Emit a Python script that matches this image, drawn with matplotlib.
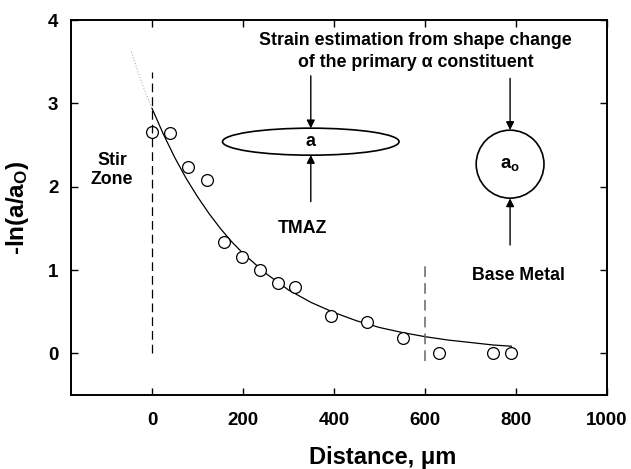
import matplotlib
matplotlib.use('Agg')
import matplotlib.pyplot as plt
from matplotlib.patches import Ellipse

plt.rcParams['font.family'] = ['Liberation Sans', 'DejaVu Sans']
plt.rcParams['font.weight'] = 'bold'
plt.rcParams['axes.labelweight'] = 'bold'
plt.rcParams['mathtext.fontset'] = 'custom'
plt.rcParams['mathtext.rm'] = 'Liberation Sans:bold'
plt.rcParams['mathtext.it'] = 'Liberation Sans:bold'

# measured points
dist = [0, 40, 80, 120, 158, 198, 238, 277, 315, 394, 473, 552, 631, 749, 788]
strain = [2.66, 2.64, 2.24, 2.08, 1.34, 1.16, 1.0, 0.84, 0.80, 0.45, 0.38, 0.18, 0.0, 0.0, 0.0]

# fitted curve
fit_x = [0, 25, 50, 75, 100, 125, 150, 175, 200, 250, 300, 350, 400, 450,
         500, 550, 600, 650, 700, 750, 790]
fit_y = [2.94, 2.63, 2.35, 2.10, 1.88, 1.68, 1.50, 1.34, 1.20, 0.96, 0.76,
         0.61, 0.49, 0.39, 0.31, 0.25, 0.20, 0.16, 0.13, 0.10, 0.085]
# dotted extrapolation into the stir zone
ext_x = [-45, -30, -15, 0]
ext_y = [3.62, 3.36, 3.14, 2.94]

xticks = [0, 200, 400, 600, 800, 1000]
yticks = [0, 1, 2, 3, 4]

fig = plt.figure(figsize=(6.31, 4.69), dpi=100)
ax = fig.add_axes([71/631, 1 - 395/469, 536/631, 375/469])

ax.plot(fit_x, fit_y, color='black', lw=0.9)
ax.plot(ext_x, ext_y, color='#b0b0b0', lw=0.8, ls=':')
ax.plot(dist, strain, 'o', mfc='white', mec='black', mew=0.9, ms=8.5)

# zone boundaries
ax.plot([0, 0], [0, 3.38], color='black', lw=0.9, dashes=(7, 4))
ax.plot([600, 600], [-0.09, 1.1], color='#666666', lw=1.1, dashes=(7, 4))

# schematic of grain shapes
ax.add_patch(Ellipse((349, 2.54), 388, 0.324, fill=False, ec='black', lw=1.2))
ax.add_patch(Ellipse((787, 2.27), 149, 0.816, fill=False, ec='black', lw=1.2))
ax.text(349, 2.54, 'a', ha='center', va='center', fontsize=13)
ax.text(787, 2.27, r'$\mathrm{a_o}$', ha='center', va='center', fontsize=13.5)

arrow = dict(arrowstyle='-|>', color='black', lw=1.0, mutation_scale=12,
             shrinkA=0, shrinkB=0)
ax.annotate('', xy=(349, 2.70), xytext=(349, 3.33), arrowprops=arrow)
ax.annotate('', xy=(349, 2.38), xytext=(349, 1.82), arrowprops=arrow)
ax.annotate('', xy=(787, 2.68), xytext=(787, 3.30), arrowprops=arrow)
ax.annotate('', xy=(787, 1.86), xytext=(787, 1.30), arrowprops=arrow)

ax.text(579, 3.76, 'Strain estimation from shape change', ha='center',
        va='center', fontsize=12.8)
ax.text(579, 3.49, 'of the primary α constituent', ha='center',
        va='center', fontsize=12.8)
ax.text(-88, 2.2, 'Stir\nZone', ha='center', va='center', fontsize=12.8,
        linespacing=1.2)
ax.text(331, 1.50, 'TMAZ', ha='center', va='center', fontsize=12.8)
ax.text(805, 0.94, 'Base Metal', ha='center', va='center', fontsize=12.8)

ax.set_xlim(-178, 1000)
ax.set_ylim(-0.5, 4)
ax.set_xticks(xticks)
ax.set_yticks(yticks)
ax.tick_params(direction='in', top=True, right=True, labeltop=False,
               labelright=False, length=5, width=1, labelsize=13.5, pad=9)
ax.tick_params(axis='x', pad=12)
for s in ax.spines.values():
    s.set_linewidth(1.4)

ax.set_xlabel('Distance, μm', fontsize=17)
ax.xaxis.set_label_coords(0.582, -0.135)
ax.set_ylabel(r'-ln(a/a$_\mathrm{O}$)', fontsize=17.5, labelpad=12)

fig.savefig('out.png', dpi=100)
